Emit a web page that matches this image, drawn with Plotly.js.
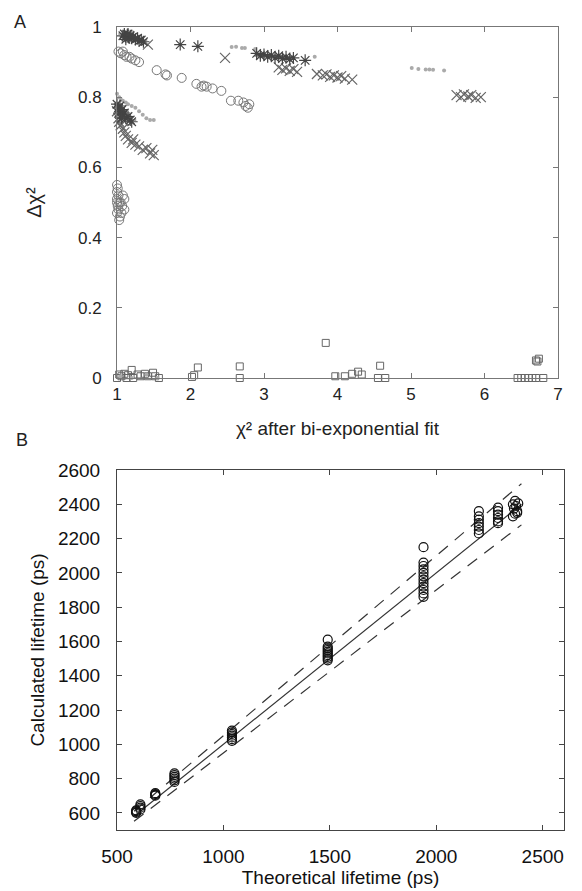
<!DOCTYPE html>
<html><head><meta charset="utf-8">
<script src="https://cdn.plot.ly/plotly-3.0.1.min.js"></script>
<style>html,body{margin:0;padding:0;background:#fff}#chart{width:582px;height:891px}</style>
</head><body><div id="chart"></div>
<script>
// ---------- Panel A data (chi^2 after bi-exponential fit vs delta chi^2) ----------
const circX = [1.02,1.05,1.08,1.10,1.13,1.17,1.20,1.25,1.30,
  1.54,1.66,1.68,1.88,2.08,2.15,2.18,2.22,2.30,2.42,2.55,2.65,2.72,2.75,2.78,2.80,
  1.00,1.01,1.00,1.02,1.00,1.03,1.01,1.05,1.08,1.10,1.07,1.02,1.00,1.04,1.06,1.03,1.10,1.00];
const circY = [0.930,0.925,0.930,0.920,0.915,0.915,0.910,0.905,0.900,
  0.877,0.865,0.862,0.855,0.838,0.830,0.833,0.830,0.825,0.818,0.790,0.790,0.785,0.775,0.770,0.780,
  0.550,0.540,0.530,0.520,0.510,0.500,0.490,0.500,0.520,0.510,0.490,0.480,0.470,0.460,0.470,0.450,0.480,0.500];

const starX = [1.08,1.10,1.12,1.14,1.16,1.18,1.20,1.22,1.25,1.28,1.30,1.33,1.36,1.12,1.15,
  1.86,2.10,
  2.90,2.95,3.00,3.05,3.10,3.15,3.20,3.25,3.30,3.35,3.40,3.56,
  1.00,1.02,1.04,1.05,1.07,1.08,1.10,1.12,1.15,1.18,1.20,1.03,1.06];
const starY = [0.975,0.980,0.972,0.978,0.970,0.975,0.968,0.972,0.965,0.968,0.960,0.963,0.958,0.965,0.980,
  0.950,0.945,
  0.925,0.918,0.922,0.915,0.920,0.912,0.918,0.910,0.915,0.908,0.912,0.905,
  0.780,0.770,0.775,0.760,0.765,0.750,0.755,0.740,0.745,0.735,0.730,0.755,0.740];

const crossX = [1.42,2.47,
  3.20,3.25,3.30,3.35,3.40,3.45,
  3.72,3.80,3.85,3.90,3.95,4.00,4.05,4.10,4.20,
  5.62,5.68,5.72,5.78,5.82,5.88,5.95,
  1.02,1.05,1.08,1.10,1.12,1.15,1.20,1.25,1.30,1.35,1.40,1.45,1.50,1.48,1.22,1.00,1.03,1.06];
const crossY = [0.950,0.912,
  0.885,0.878,0.882,0.875,0.880,0.872,
  0.866,0.862,0.865,0.858,0.862,0.856,0.860,0.853,0.850,
  0.806,0.800,0.808,0.802,0.806,0.798,0.800,
  0.740,0.720,0.710,0.700,0.690,0.680,0.670,0.665,0.660,0.650,0.655,0.640,0.635,0.650,0.680,0.760,0.730,0.750];

const dotX = [2.56,2.62,2.70,2.74,2.88,3.69,5.01,5.10,5.20,5.25,5.30,5.45,
  1.00,1.03,1.05,1.08,1.12,1.15,1.20,1.25,1.30,1.35,1.40,1.45,1.50,
  1.05,1.20,1.40,1.55];
const dotY = [0.943,0.944,0.940,0.940,0.937,0.915,0.883,0.880,0.879,0.879,0.878,0.876,
  0.810,0.800,0.795,0.790,0.785,0.780,0.775,0.770,0.760,0.750,0.740,0.735,0.735,
  0.005,0.000,0.010,0.000];

const sqX = [1.00,1.03,1.06,1.10,1.13,1.15,1.20,1.22,1.28,1.32,1.38,1.42,1.49,1.52,1.57,
  2.02,2.05,2.10,2.67,2.67,3.84,3.97,4.10,4.20,4.28,4.33,4.58,4.55,4.65,
  6.45,6.50,6.55,6.60,6.65,6.70,6.80,6.72,6.74,6.70];
const sqY = [0.000,0.010,0.005,0.012,0.000,0.008,0.023,0.000,0.010,0.005,0.012,0.005,0.015,0.005,0.000,
  0.003,0.008,0.030,0.033,0.000,0.100,0.005,0.005,0.012,0.018,0.010,0.035,0.000,0.000,
  0.000,0.000,0.000,0.000,0.000,0.000,0.000,0.047,0.055,0.050];

// ---------- Panel B data (theoretical vs calculated lifetime, ps) ----------
const lifeX = [590,590,590,590, 610,610,610,610,
  680,680,680,680,
  770,770,770,770,770,770,
  1040,1040,1040,1040,1040,1040,1040,
  1490,1490,1490,1490,1490,1490,1490,1490,1490,1490,
  1940,1940,1940,1940,1940,1940,1940,1940,1940,1940,1940,1940,
  2200,2200,2200,2200,2200,2200,2200,
  2290,2290,2290,2290,2290,2290,
  2360,2370,2380,2365,2375,2385,2370,2360,2380];
const lifeY = [600,605,610,615, 620,630,640,650,
  700,705,710,715,
  780,790,800,810,820,830,
  1020,1030,1040,1050,1060,1070,1080,
  1490,1500,1510,1520,1530,1540,1550,1560,1570,1610,
  1860,1880,1900,1920,1940,1960,1980,2000,2020,2040,2060,2150,
  2230,2250,2270,2290,2310,2330,2360,
  2290,2300,2320,2340,2360,2380,
  2330,2345,2360,2375,2390,2405,2420,2400,2350];

const refX = [580,2400];
const refY = [580,2400];
const upperY = [609,2520];
const lowerY = [551,2280];

const FONT = 'Liberation Sans, Arial, sans-serif';
const W = 582, H = 891;
const px = v => v / W;
const py = v => 1 - v / H;

const traces = [
  {x: sqX, y: sqY, type:'scatter', mode:'markers', cliponaxis:false, xaxis:'x', yaxis:'y',
   marker:{symbol:'square-open', size:7, color:'#666', line:{width:1, color:'#666'}}},
  {x: dotX, y: dotY, type:'scatter', mode:'markers', cliponaxis:false, xaxis:'x', yaxis:'y',
   marker:{symbol:'circle', size:4, color:'#aaa'}},
  {x: circX, y: circY, type:'scatter', mode:'markers', cliponaxis:false, xaxis:'x', yaxis:'y',
   marker:{symbol:'circle-open', size:9, color:'#777', line:{width:1, color:'#777'}}},
  {x: crossX, y: crossY, type:'scatter', mode:'markers', cliponaxis:false, xaxis:'x', yaxis:'y',
   marker:{symbol:'x-thin-open', size:10, color:'#666', line:{width:1.2, color:'#666'}}},
  {x: starX, y: starY, type:'scatter', mode:'markers', cliponaxis:false, xaxis:'x', yaxis:'y',
   marker:{symbol:'asterisk-open', size:10, color:'#444', line:{width:1.2, color:'#444'}}},
  {x: refX, y: upperY, type:'scatter', mode:'lines', xaxis:'x2', yaxis:'y2',
   line:{color:'#333', width:1.2, dash:'12px,9px'}},
  {x: refX, y: lowerY, type:'scatter', mode:'lines', xaxis:'x2', yaxis:'y2',
   line:{color:'#333', width:1.2, dash:'12px,9px'}},
  {x: refX, y: refY, type:'scatter', mode:'lines', xaxis:'x2', yaxis:'y2',
   line:{color:'#333', width:1.2}},
  {x: lifeX, y: lifeY, type:'scatter', mode:'markers', cliponaxis:false, xaxis:'x2', yaxis:'y2',
   marker:{symbol:'circle-open', size:9, color:'#111', line:{width:1.2, color:'#111'}}}
];

const axBase = {
  showgrid:false, zeroline:false, showline:true, mirror:'allticks',
  ticks:'inside', ticklen:5, tickwidth:1, automargin:false
};

const layout = {
  width:W, height:H, showlegend:false,
  paper_bgcolor:'#fff', plot_bgcolor:'#fff',
  margin:{l:0, r:0, t:0, b:0},
  font:{family:FONT, color:'#222'},
  xaxis: Object.assign({}, axBase, {
    domain:[px(117), px(558)], range:[1,7], dtick:1, tick0:0, anchor:'y',
    linecolor:'#777', tickcolor:'#777', tickfont:{size:17, color:'#222'},
    ticklabelstandoff:1,
    title:{text:'χ² after bi-exponential fit', font:{size:19, color:'#222'}, standoff:18}
  }),
  yaxis: Object.assign({}, axBase, {
    domain:[py(378), py(27)], range:[0,1], dtick:0.2, tick0:0, anchor:'x',
    linecolor:'#777', tickcolor:'#777', tickfont:{size:17, color:'#222'},
    ticklabelstandoff:11,
    title:{text:'Δχ²', font:{size:20, color:'#222'}, standoff:30}
  }),
  xaxis2: Object.assign({}, axBase, {
    domain:[px(117), px(564)], range:[500,2600], dtick:500, tick0:0, anchor:'y2',
    linecolor:'#444', tickcolor:'#444', tickfont:{size:19, color:'#111'},
    ticklabelstandoff:9,
    title:{text:'Theoretical lifetime (ps)', font:{size:19, color:'#111'}, standoff:2}
  }),
  yaxis2: Object.assign({}, axBase, {
    domain:[py(830), py(470)], range:[500,2600], dtick:200, tick0:0, anchor:'x2',
    linecolor:'#444', tickcolor:'#444', tickfont:{size:19, color:'#111'},
    ticklabelstandoff:12,
    title:{text:'Calculated lifetime (ps)', font:{size:19, color:'#111'}, standoff:8}
  }),
  annotations:[
    {text:'A', xref:'paper', yref:'paper', x:px(20), y:py(22), showarrow:false,
     font:{size:18, color:'#222', family:FONT}, xanchor:'center', yanchor:'middle'},
    {text:'B', xref:'paper', yref:'paper', x:px(22), y:py(440), showarrow:false,
     font:{size:18, color:'#222', family:FONT}, xanchor:'center', yanchor:'middle'}
  ]
};

Plotly.newPlot('chart', traces, layout, {displayModeBar:false, staticPlot:true});
</script>
</body></html>
